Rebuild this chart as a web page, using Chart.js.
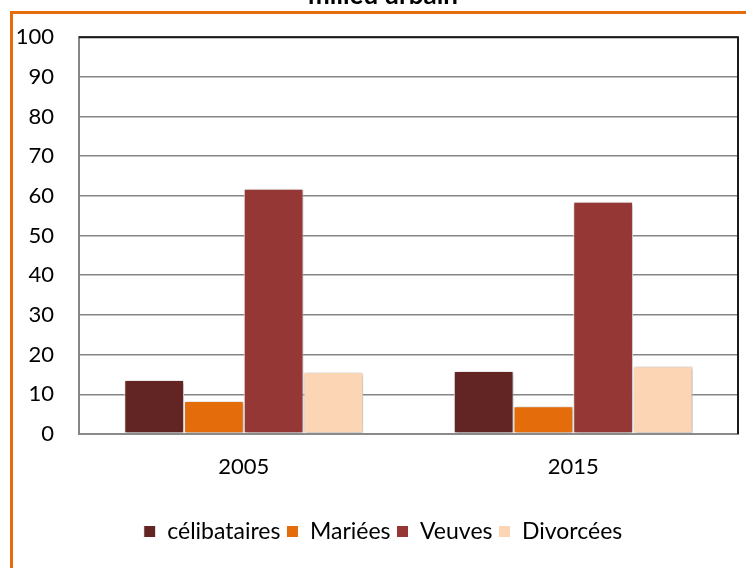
<!DOCTYPE html>
<html>
<head>
<meta charset="utf-8">
<script src="https://cdn.jsdelivr.net/npm/chart.js@4"></script>
<style>
  html, body { margin: 0; padding: 0; background: #fff; overflow: hidden; }
  body { width: 746px; height: 568px; position: relative; }
  #frame { position: absolute; left: 10px; top: 11px; width: 800px; height: 600px;
           border-left: 3px solid #E46C0A; border-top: 3px solid #E46C0A; box-sizing: border-box; }
  #wrap { position: absolute; left: 0; top: -20px; width: 746px; height: 588px; }
</style>
</head>
<body>
<div id="frame"></div>
<div id="wrap"><canvas id="c" width="746" height="588"></canvas></div>
<script>
const categories = ['2005', '2015'];
const seriesNames = ['célibataires', 'Mariées', 'Veuves', 'Divorcées'];
const celibataires = [13.6, 15.9];
const mariees = [8.3, 7.0];
const veuves = [61.8, 58.5];
const divorcees = [15.6, 17.1];
const yTicks = [0, 10, 20, 30, 40, 50, 60, 70, 80, 90, 100];
const colors = ['#632523', '#E46C0A', '#953735', '#FCD5B5'];
const titleText = 'milieu urbain';

const seriesValues = [celibataires, mariees, veuves, divorcees];
const FONT = 'Lato, "Open Sans", sans-serif';

const framePlugin = {
  id: 'frameBox',
  afterLayout(chart) {
    // centre legend and title on the plot area like the original
    if (chart.legend) { chart.legend.left += 14; chart.legend.right += 14; }
    if (chart.titleBlock) { chart.titleBlock.left += 14; chart.titleBlock.right += 14; }
  },
  afterDraw(chart) {
    const { ctx, chartArea: a } = chart;
    ctx.save();
    ctx.strokeStyle = '#1a1a1a';
    ctx.lineWidth = 2;
    ctx.beginPath();
    ctx.moveTo(a.left, a.top);
    ctx.lineTo(a.right, a.top);
    ctx.lineTo(a.right, a.bottom);
    ctx.stroke();
    ctx.restore();
  },
  beforeDatasetsDraw(chart) {
    chart.ctx.save();
    chart.ctx.shadowColor = 'rgba(0,0,0,0.35)';
    chart.ctx.shadowBlur = 4;
    chart.ctx.shadowOffsetX = 1;
    chart.ctx.shadowOffsetY = 1;
  },
  afterDatasetsDraw(chart) {
    chart.ctx.restore();
  }
};

new Chart(document.getElementById('c'), {
  type: 'bar',
  data: {
    labels: categories,
    datasets: seriesNames.map((n, i) => ({
      label: n,
      data: seriesValues[i],
      backgroundColor: colors[i],
      borderColor: '#ffffff',
      borderWidth: 1,
      borderSkipped: false,
      categoryPercentage: 0.725,
      barPercentage: 1.0
    }))
  },
  options: {
    responsive: false,
    animation: false,
    devicePixelRatio: 1,
    layout: { padding: { left: 0, right: 8, top: 0, bottom: 15 } },
    plugins: {
      title: {
        display: true,
        text: titleText,
        color: '#000',
        font: { family: FONT, size: 26, weight: 'bold' },
        padding: { top: 0, bottom: 26 }
      },
      legend: {
        position: 'bottom',
        labels: {
          color: '#000',
          font: { family: FONT, size: 23 },
          boxWidth: 12,
          boxHeight: 12,
          padding: 6,
          useBorderRadius: false
        }
      },
      tooltip: { enabled: false }
    },
    scales: {
      x: {
        grid: { display: false, drawTicks: false },
        border: { display: true, color: '#8a8a8a', width: 2 },
        ticks: { color: '#000', font: { family: FONT, size: 22 }, padding: 20 },
        afterFit(s) { s.height = 80; }
      },
      y: {
        min: 0, max: 100,
        afterBuildTicks(s) { s.ticks = yTicks.map(v => ({ value: v })); },
        grid: { color: '#868686', lineWidth: 1.6, drawTicks: false },
        border: { display: true, color: '#868686', width: 2 },
        ticks: { color: '#000', font: { family: FONT, size: 22 }, padding: 25 },
        afterFit(s) { s.width = 79; }
      }
    }
  },
  plugins: [framePlugin]
});
</script>
</body>
</html>
